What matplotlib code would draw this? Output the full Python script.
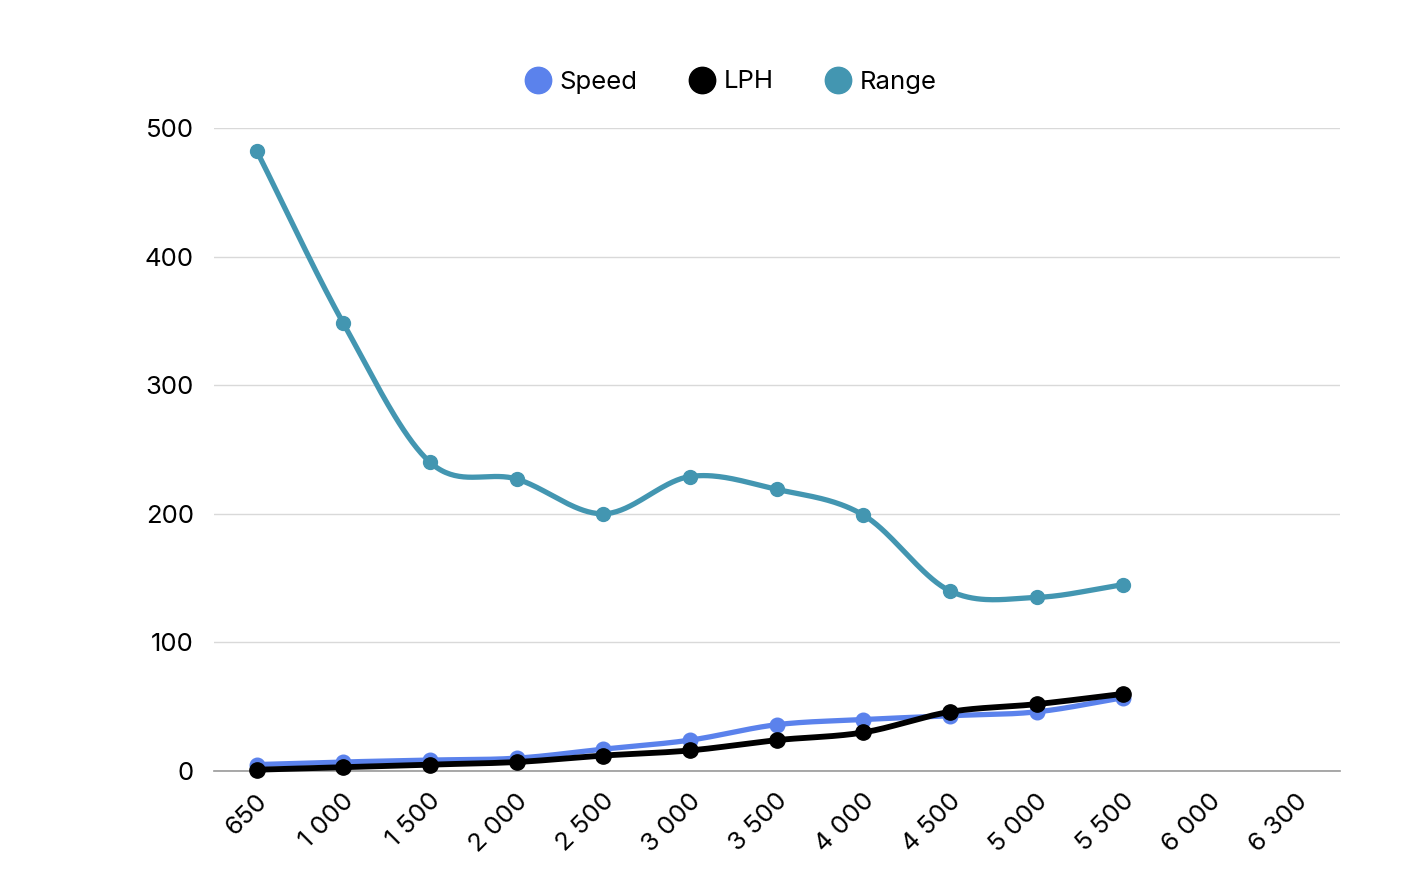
import numpy as np
import matplotlib.pyplot as plt
from matplotlib.lines import Line2D
from matplotlib.transforms import ScaledTranslation

plt.rcParams['font.family'] = ['Inter', 'DejaVu Sans']

categories = ["650", "1 000", "1 500", "2 000", "2 500", "3 000", "3 500",
              "4 000", "4 500", "5 000", "5 500", "6 000", "6 300"]
speed = [5, 7, 8.5, 10, 17, 24, 36, 40, 43, 46, 57]
lph = [1, 3, 5, 7, 12, 16, 24, 30, 46, 52, 60]
range_km = [482, 348, 240, 227, 200, 229, 219, 199, 140, 135, 145]

c_speed = "#5b82ec"
c_lph = "#000000"
c_range = "#4396b1"


def smooth(y, n=40):
    # catmull-rom through the points (uniform x spacing)
    y = np.asarray(y, float)
    m = np.zeros_like(y)
    m[1:-1] = (y[2:] - y[:-2]) / 2
    m[0] = y[1] - y[0]
    m[-1] = y[-1] - y[-2]
    xs, ys = [], []
    for i in range(len(y) - 1):
        t = np.linspace(0, 1, n)
        h00 = 2 * t**3 - 3 * t**2 + 1
        h10 = t**3 - 2 * t**2 + t
        h01 = -2 * t**3 + 3 * t**2
        h11 = t**3 - t**2
        xs.append(i + t)
        ys.append(h00 * y[i] + h10 * m[i] + h01 * y[i + 1] + h11 * m[i + 1])
    return np.concatenate(xs), np.concatenate(ys)


fig = plt.figure(figsize=(14.2, 8.92), dpi=100)
ax = fig.add_axes([213.5 / 1420, 121 / 892, (1340 - 213.5) / 1420, (771 - 128) / 892])

for vals, col, lw, ms, z in [(range_km, c_range, 3.8, 10, 2),
                             (speed, c_speed, 3.8, 10.5, 3),
                             (lph, c_lph, 4.2, 11, 4)]:
    sx, sy = smooth(vals)
    ax.plot(sx, sy, color=col, lw=lw, zorder=z, solid_capstyle='round', clip_on=False)
    ax.plot(np.arange(len(vals)), vals, 'o', color=col, ms=ms, zorder=z, clip_on=False)

ax.set_xlim(-0.5, 12.5)
ax.set_ylim(0, 500)
ax.set_yticks(range(0, 501, 100))
ax.set_xticks(range(len(categories)))
ax.set_xticklabels(categories, rotation=45, ha='right', va='center', rotation_mode='anchor')
ax.tick_params(axis='both', length=0, labelsize=18.5)
ax.tick_params(axis='y', pad=14)
ax.tick_params(axis='x', pad=19)
for lab in ax.get_xticklabels():
    lab.set_transform(lab.get_transform() + ScaledTranslation(0.07, 0, fig.dpi_scale_trans))

ax.grid(axis='y', color='#d9d9d9', lw=1)
ax.set_axisbelow(True)
for s in ['top', 'right', 'left']:
    ax.spines[s].set_visible(False)
ax.spines['bottom'].set_color('#999999')
ax.spines['bottom'].set_linewidth(1.2)

handles = [Line2D([], [], ls='none', marker='o', ms=19, color=c) for c in (c_speed, c_lph, c_range)]
fig.legend(handles, ["Speed", "LPH", "Range"], loc='center', ncol=3,
           bbox_to_anchor=(731 / 1420, 1 - 82 / 892), frameon=False, fontsize=18.5,
           handletextpad=0.35, columnspacing=2.0, handlelength=1.0)

fig.savefig("out.png", dpi=100, facecolor='white')
